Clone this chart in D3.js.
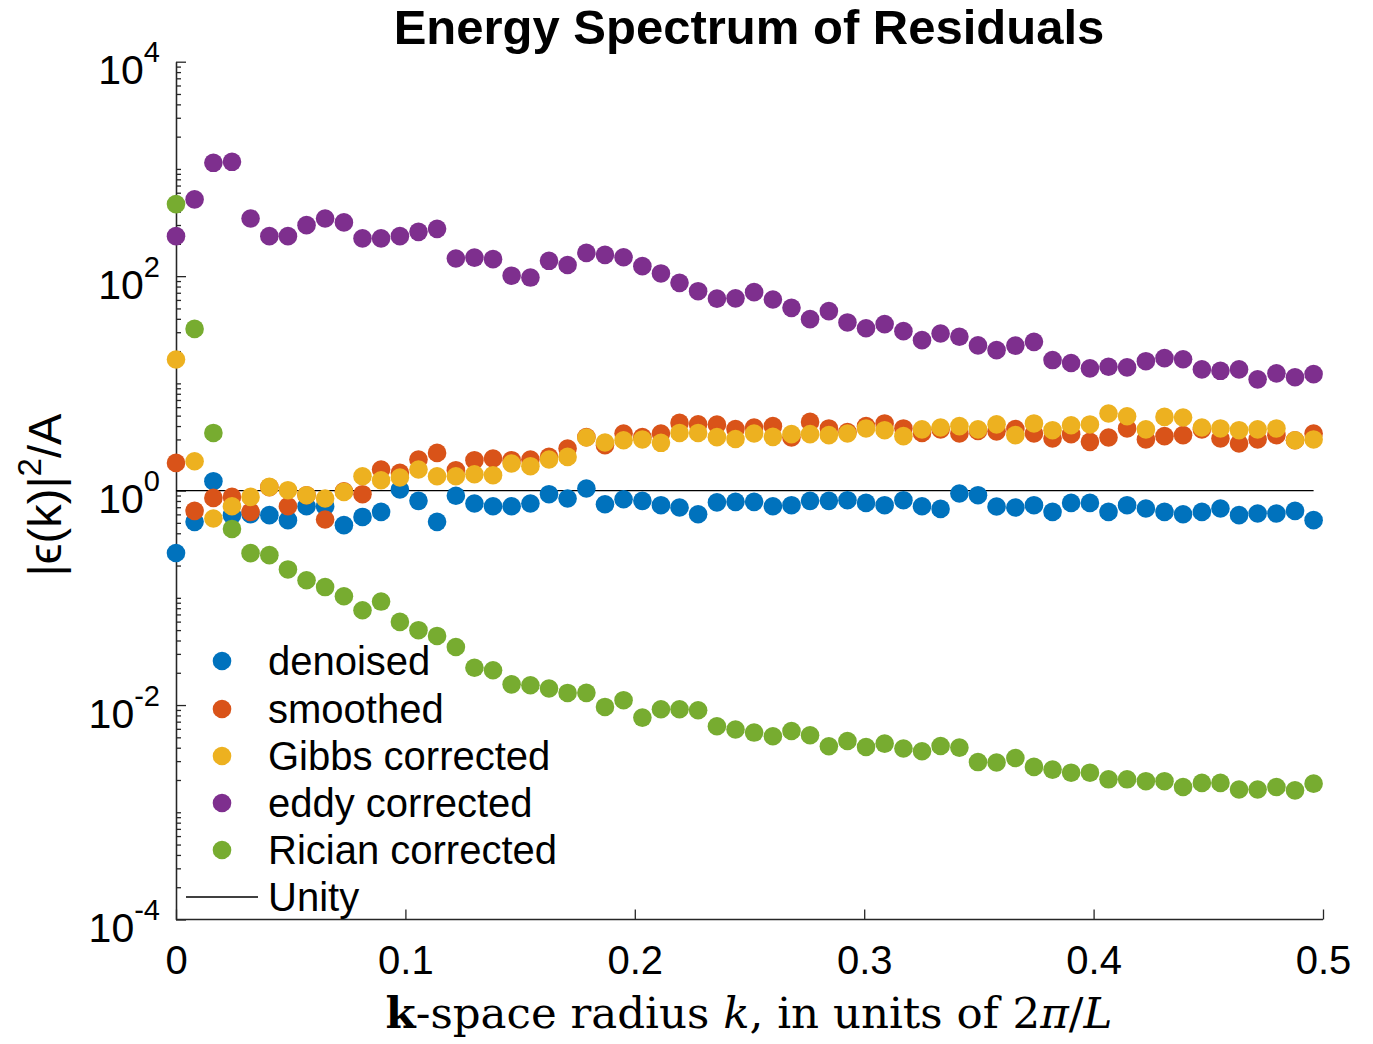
<!DOCTYPE html>
<meta charset='utf-8'>
<head>
    <title>Energy Spectrum of Residuals</title>
    <script src='https://d3js.org/d3.v7.min.js'></script>
</head>

<style>
    body { margin: 0; background: #fff; }
    text { font-family: 'Liberation Sans', Arial, Helvetica, sans-serif; fill: #000; }
    .axis path, .axis line { stroke: #262626; stroke-width: 1.3px; }
    .unity { stroke: #000; stroke-width: 1.3px; fill: none; }
</style>

<svg></svg>

<script>
    var vWidth = 1373;
    var vHeight = 1044;

    // k-space radius, units of 2pi/L
    var vK = [0, 0.0081, 0.0163, 0.0244, 0.0325, 0.0407, 0.0488, 0.0569, 0.0650, 0.0732,
        0.0813, 0.0894, 0.0976, 0.1057, 0.1138, 0.1220, 0.1301, 0.1382, 0.1463, 0.1545,
        0.1626, 0.1707, 0.1789, 0.1870, 0.1951, 0.2033, 0.2114, 0.2195, 0.2276, 0.2358,
        0.2439, 0.2520, 0.2602, 0.2683, 0.2764, 0.2846, 0.2927, 0.3008, 0.3089, 0.3171,
        0.3252, 0.3333, 0.3415, 0.3496, 0.3577, 0.3659, 0.3740, 0.3821, 0.3902, 0.3984,
        0.4065, 0.4146, 0.4228, 0.4309, 0.4390, 0.4472, 0.4553, 0.4634, 0.4715, 0.4797,
        0.4878, 0.4959];

    var vDenoised = [0.262, 0.511, 1.224, 0.590, 0.602, 0.590, 0.530, 0.715, 0.715, 0.476,
        0.568, 0.633, 1.024, 0.802, 0.511, 0.896, 0.758, 0.715, 0.715, 0.758,
        0.926, 0.844, 1.046, 0.746, 0.831, 0.802, 0.731, 0.696, 0.602, 0.776,
        0.785, 0.785, 0.715, 0.731, 0.802, 0.802, 0.814, 0.768, 0.731, 0.814,
        0.715, 0.675, 0.940, 0.906, 0.710, 0.696, 0.731, 0.633, 0.768, 0.768,
        0.633, 0.731, 0.681, 0.633, 0.602, 0.633, 0.681, 0.590, 0.612, 0.612,
        0.647, 0.530];

    var vSmoothed = [1.813, 0.647, 0.855, 0.873, 0.633, 1.076, 0.715, 0.906, 0.538, 0.987,
        0.926, 1.573, 1.463, 1.950, 2.247, 1.550, 1.921, 1.993, 1.921, 1.950,
        2.063, 2.470, 3.15, 2.652, 3.41, 3.15, 3.41, 4.28, 4.16, 4.12,
        3.75, 3.88, 3.99, 3.13, 4.37, 3.80, 3.51, 3.99, 4.23, 3.80,
        3.45, 3.72, 3.41, 3.60, 3.57, 3.75, 3.41, 3.06, 3.36, 2.85,
        3.13, 3.80, 3.00, 3.22, 3.29, 3.72, 3.06, 2.75, 3.00, 3.29,
        2.95, 3.41];

    var vGibbs = [16.7, 1.880, 0.549, 0.715, 0.873, 1.083, 1.009, 0.906, 0.844, 0.972,
        1.362, 1.250, 1.325, 1.573, 1.362, 1.362, 1.422, 1.392, 1.790, 1.689,
        1.950, 2.063, 3.13, 2.81, 2.95, 3.00, 2.79, 3.45, 3.45, 3.15,
        3.03, 3.41, 3.17, 3.36, 3.36, 3.29, 3.41, 3.80, 3.66, 3.22,
        3.72, 3.88, 3.99, 3.72, 4.15, 3.29, 4.23, 3.66, 4.07, 4.14,
        5.24, 4.94, 3.72, 4.87, 4.81, 3.88, 3.80, 3.66, 3.72, 3.80,
        2.95, 3.00];

    var vEddy = [236, 520, 1140, 1165, 345, 236, 236, 299, 345, 317,
        225, 225, 236, 259, 276, 146, 149, 144, 101, 97,
        139, 127, 165, 158, 150, 124, 106, 86.6, 72.4, 61.7,
        62.1, 70.9, 60.6, 50.6, 39.7, 47.2, 37.0, 32.7, 35.7, 30.7,
        25.3, 29.2, 27.2, 22.6, 20.4, 22.5, 24.4, 16.5, 15.5, 13.8,
        14.3, 14.1, 16.1, 17.2, 16.8, 13.5, 13.1, 13.5, 10.9, 12.4,
        11.4, 12.2];

    var vRician = [470, 32.2, 3.45, 0.439, 0.261, 0.250, 0.184, 0.146, 0.126, 0.1035,
        0.0766, 0.0923, 0.0596, 0.0499, 0.0441, 0.0348, 0.0223, 0.0211, 0.0156, 0.0153,
        0.01426, 0.01297, 0.0130, 0.00960, 0.0111, 0.00764, 0.00914, 0.00914, 0.00894, 0.00634,
        0.00591, 0.00554, 0.00512, 0.00573, 0.00523, 0.00413, 0.00462, 0.00406, 0.00437, 0.00393,
        0.00371, 0.00415, 0.00401, 0.00294, 0.00291, 0.00321, 0.00265, 0.00250, 0.00234, 0.00234,
        0.00203, 0.00203, 0.00195, 0.00195, 0.00172, 0.00188, 0.00188, 0.00163, 0.00163, 0.00172,
        0.00160, 0.00185];

    var vSeriesNames = ['denoised', 'smoothed', 'Gibbs corrected', 'eddy corrected', 'Rician corrected'];
    var vSeriesValues = [vDenoised, vSmoothed, vGibbs, vEddy, vRician];
    var vColors = ['#0072BD', '#D95319', '#EDB120', '#7E2F8E', '#77AC30'];

    var vXTicks = [0, 0.1, 0.2, 0.3, 0.4, 0.5];
    var vYTicks = [1e-4, 1e-2, 1e0, 1e2, 1e4];

    var svg = d3.select('svg').attr('width', vWidth).attr('height', vHeight);

    // plot box
    var vLeft = 176, vRight = 1323, vTop = 61.7, vBottom = 919.5;

    var x = d3.scaleLinear().domain([0, 0.5]).range([vLeft, vRight]);
    var y = d3.scaleLog().domain([1e-4, 1e4]).range([vBottom, vTop]);

    // minor ticks on the log axis (2..9 of every decade, plus odd decades)
    var vMinor = [];
    for (var e = -4; e < 4; e++) {
        for (var m = 1; m < 10; m++) {
            if (m === 1 && e % 2 === 0) continue;
            vMinor.push(m * Math.pow(10, e));
        }
    }

    svg.append('g').attr('class', 'axis')
        .attr('transform', 'translate(' + vLeft + ',0)')
        .call(d3.axisLeft(y).tickValues(vMinor).tickSizeInner(-5).tickSizeOuter(0).tickFormat(''));

    var gY = svg.append('g').attr('class', 'axis')
        .attr('transform', 'translate(' + vLeft + ',0)')
        .call(d3.axisLeft(y).tickValues(vYTicks).tickSizeInner(-10).tickSizeOuter(0).tickFormat(''));

    gY.selectAll('.tick').append('text')
        .attr('x', -16).attr('y', 0).attr('dy', 22)
        .attr('text-anchor', 'end')
        .style('font-size', '41px')
        .each(function (d) {
            var t = d3.select(this);
            t.append('tspan').text('10');
            t.append('tspan').attr('dy', -22).style('font-size', '29px')
                .text(String(Math.round(Math.log10(d))));
        });

    var gX = svg.append('g').attr('class', 'axis')
        .attr('transform', 'translate(0,' + vBottom + ')')
        .call(d3.axisBottom(x).tickValues(vXTicks).tickSizeInner(-10).tickSizeOuter(0)
            .tickPadding(26).tickFormat(function (d) { return d === 0 ? '0' : d3.format('.1f')(d); }));
    gX.selectAll('text').style('font-size', '40px').attr('fill', '#000');
    gX.select('.domain').attr('d', 'M' + vLeft + ',0H' + vRight);

    // unity reference line
    svg.append('path').attr('class', 'unity')
        .attr('d', d3.line()([[x(vK[0]), y(1)], [x(vK[vK.length - 1]), y(1)]]));

    // scatter series, drawn in legend order
    vSeriesValues.forEach(function (vals, si) {
        svg.append('g').selectAll('circle')
            .data(vals).enter().append('circle')
            .attr('cx', function (d, i) { return x(vK[i]); })
            .attr('cy', function (d) { return y(d); })
            .attr('r', 9.3)
            .attr('fill', vColors[si]);
    });

    // title
    svg.append('text')
        .attr('x', 749).attr('y', 44)
        .attr('text-anchor', 'middle')
        .style('font-size', '49px').style('font-weight', 'bold')
        .text('Energy Spectrum of Residuals');

    // x label (LaTeX-ish)
    var xl = svg.append('text')
        .attr('x', 749).attr('y', 1028)
        .attr('text-anchor', 'middle')
        .style('font-family', "'DejaVu Serif', 'Liberation Serif', serif")
        .style('font-size', '43.5px');
    xl.append('tspan').style('font-weight', 'bold').text('k');
    xl.append('tspan').text('-space radius ');
    xl.append('tspan').style('font-style', 'italic').text('k');
    xl.append('tspan').text(', in units of 2');
    xl.append('tspan').style('font-style', 'italic').text('π');
    xl.append('tspan').text('/');
    xl.append('tspan').style('font-style', 'italic').text('L');

    // y label
    var yl = svg.append('text')
        .attr('transform', 'translate(61,495) rotate(-90)')
        .attr('text-anchor', 'middle')
        .style('font-size', '47px');
    yl.append('tspan').text('|ϵ(k)|');
    yl.append('tspan').attr('dy', -20).style('font-size', '33px').text('2');
    yl.append('tspan').attr('dy', 20).text('/A');

    // legend
    var vLegY = [661, 709, 756, 803, 850];
    var legend = svg.append('g');
    vSeriesNames.forEach(function (name, i) {
        legend.append('circle').attr('cx', 222).attr('cy', vLegY[i]).attr('r', 9.3).attr('fill', vColors[i]);
        legend.append('text').attr('x', 268).attr('y', vLegY[i] + 14)
            .style('font-size', '40px').text(name);
    });
    legend.append('line').attr('class', 'unity')
        .attr('x1', 186).attr('x2', 258).attr('y1', 897).attr('y2', 897);
    legend.append('text').attr('x', 268).attr('y', 911).style('font-size', '40px').text('Unity');
</script>
